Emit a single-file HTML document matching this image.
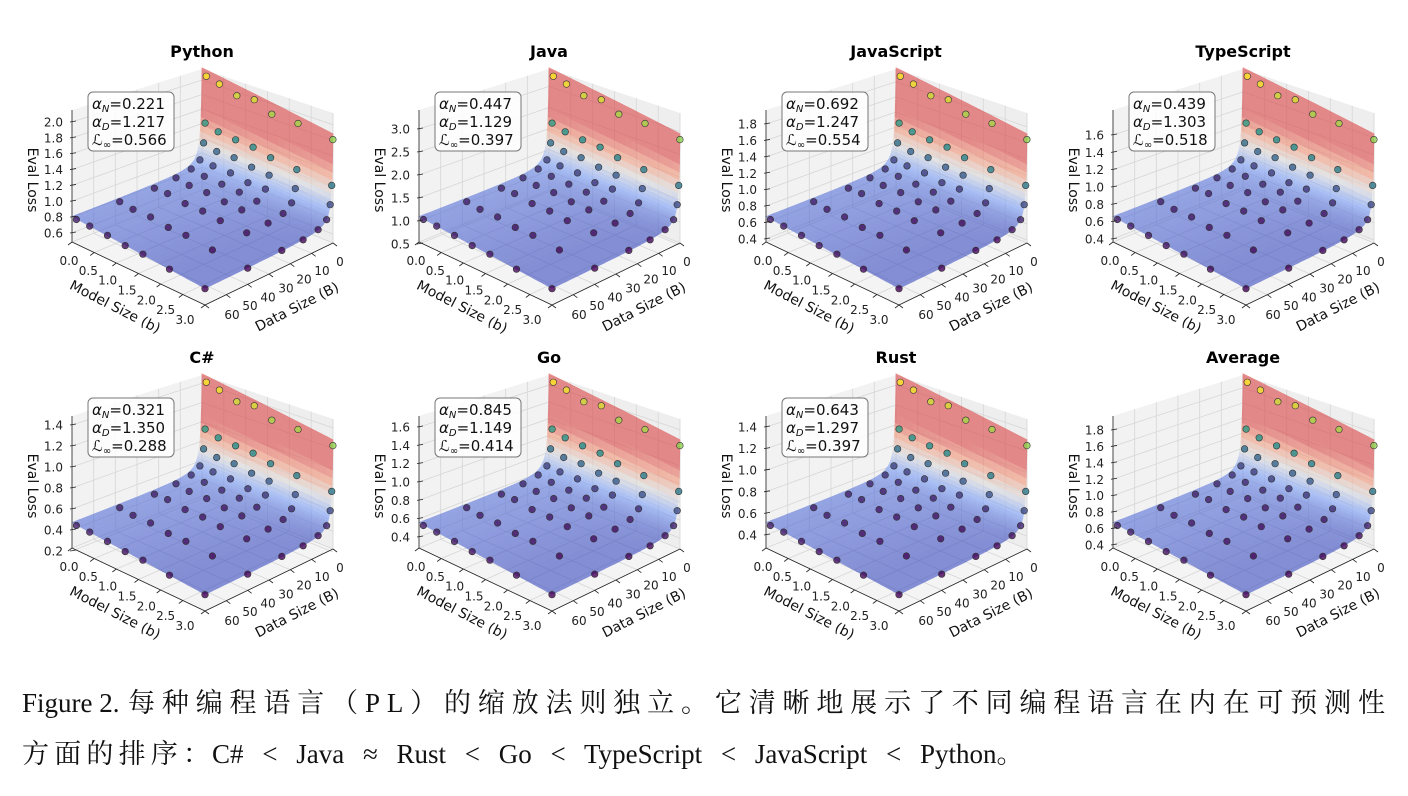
<!DOCTYPE html>
<html><head><meta charset="utf-8">
<style>
html,body{margin:0;padding:0;background:#fff;}
svg{display:block;}
</style></head>
<body>
<svg id="s" width="1408" height="796" xmlns="http://www.w3.org/2000/svg" font-family="DejaVu Sans, Liberation Sans, sans-serif">
<text x="22" y="712" font-family="Liberation Serif, Noto Serif CJK SC, serif" font-size="27" fill="#111">Figure 2.</text>
<text x="128" y="712" font-family="Liberation Serif, Noto Serif CJK SC, serif" font-size="27" fill="#111" textLength="1257" lengthAdjust="spacing">每种编程语言（PL）的缩放法则独立。它清晰地展示了不同编程语言在内在可预测性</text>
<text x="22" y="763" font-family="Liberation Serif, Noto Serif CJK SC, serif" font-size="27" fill="#111" textLength="188" lengthAdjust="spacing">方面的排序：</text>
<text x="212" y="763" font-family="Liberation Serif, Noto Serif CJK SC, serif" font-size="27" fill="#111" word-spacing="12">C# &lt; Java ≈ Rust &lt; Go &lt; TypeScript &lt; JavaScript &lt; Python。</text>
</svg>
<script>
const NS="http://www.w3.org/2000/svg";
const svg=document.getElementById('s');
const panels=[
["Python","0.221","1.217","0.566",[0.6,2.0,0.2],233,122],
["Java","0.447","1.129","0.397",[0.5,3.0,0.5],244,129],
["JavaScript","0.692","1.247","0.554",[0.4,1.8,0.2],239,124],
["TypeScript","0.439","1.303","0.518",[0.4,1.6,0.2],239,135],
["C#","0.321","1.350","0.288",[0.2,1.4,0.2],245,119],
["Go","0.845","1.149","0.414",[0.4,1.6,0.2],231,121],
["Rust","0.643","1.297","0.397",[0.4,1.4,0.2],229,121],
["Average",null,null,null,[0.4,1.8,0.2],239,124]
];
const C={B:[202,190],L:[72,242],F:[205,305],R:[333,243]};
const H={B:121,L:132,F:135,R:130};
function proj(u,w,z){
 const bx=C.B[0]*(1-u)*(1-w)+C.L[0]*(1-u)*w+C.F[0]*u*w+C.R[0]*u*(1-w);
 const by=C.B[1]*(1-u)*(1-w)+C.L[1]*(1-u)*w+C.F[1]*u*w+C.R[1]*u*(1-w);
 const h=H.B*(1-u)*(1-w)+H.L*(1-u)*w+H.F*u*w+H.R*u*(1-w);
 return [bx,by-z*h];
}
function lerpC(stops,t){
 t=Math.max(0,Math.min(1,t));
 for(let i=0;i<stops.length-1;i++){
  const a=stops[i],b=stops[i+1];
  if(t<=b[0]){const f=(t-a[0])/(b[0]-a[0]);
   const c=[0,1,2].map(k=>Math.round(a[1][k]+(b[1][k]-a[1][k])*f));
   return `rgb(${c[0]},${c[1]},${c[2]})`;}
 }
 const l=stops[stops.length-1][1];return `rgb(${l[0]},${l[1]},${l[2]})`;
}
const cool=[[0,[59,76,192]],[0.25,[123,159,249]],[0.5,[221,221,221]],[0.75,[244,154,123]],[1,[220,70,70]]];
const viri=[[0,[68,1,84]],[0.25,[59,82,139]],[0.5,[33,145,140]],[0.75,[94,201,98]],[1,[253,231,37]]];
function zf(m,d){const g=Math.pow(1+d/0.63,-1.2);return 0.12+0.07*(1-m/3)+(0.72+0.1*(1-m/3))*g;}
function el(tag,attrs,parent,txt){const e=document.createElementNS(NS,tag);for(const k in attrs)e.setAttribute(k,attrs[k]);if(txt!=null)e.textContent=txt;parent.appendChild(e);return e;}
function pts(a){return a.map(p=>p[0].toFixed(1)+","+p[1].toFixed(1)).join(" ");}
panels.forEach((P,idx)=>{
 const ox=(idx%4)*347, oy=Math.floor(idx/4)*306;
 const g=el('g',{transform:`translate(${ox},${oy})`},svg);
 const [name,an,ad,li,tk,y0,y1]=P;
 const ticks=[];for(let v=tk[0];v<=tk[1]+1e-6;v+=tk[2])ticks.push(+v.toFixed(2));
 const nT=ticks.length;
 const hL=H.L, baseL=C.L[1];
 const tickZ=ticks.map((v,i)=>{const y=y0+(y1-y0)*i/(nT-1);return (baseL-y)/hL;});
 el('polygon',{points:pts([proj(0,0,0),proj(0,1,0),proj(1,1,0),proj(1,0,0)]),fill:"#f4f4f4"},g);
 el('polygon',{points:pts([proj(0,0,0),proj(0,1,0),proj(0,1,1),proj(0,0,1)]),fill:"#f2f2f2"},g);
 el('polygon',{points:pts([proj(0,0,0),proj(1,0,0),proj(1,0,1),proj(0,0,1)]),fill:"#eeeeee"},g);
 const gs={stroke:"#d6d6d6","stroke-width":0.8,fill:"none"};
 for(let i=0;i<=6;i++){const u=i/6;el('polyline',Object.assign({points:pts([proj(u,1,0),proj(u,0,0),proj(u,0,1)])},gs),g);}
 for(let i=0;i<=6;i++){const w=i/6;el('polyline',Object.assign({points:pts([proj(1,w,0),proj(0,w,0),proj(0,w,1)])},gs),g);}
 tickZ.forEach(z=>{el('polyline',Object.assign({points:pts([proj(0,1,z),proj(0,0,z),proj(1,0,z)])},gs),g);});
 const sg=el('g',{opacity:0.6},g);
 const NU=22,NW=50;
 const quads=[];
 for(let i=0;i<NU;i++)for(let j=0;j<NW;j++){
  const u0=i/NU,u1=(i+1)/NU,t0=j/NW,t1=(j+1)/NW;
  const d0=60*Math.pow(t0,3),d1=60*Math.pow(t1,3);
  const w0=d0/60,w1=d1/60;
  const m0=u0*3,m1=u1*3;
  const z00=zf(m0,d0),z10=zf(m1,d0),z11=zf(m1,d1),z01=zf(m0,d1);
  const zc=(z00+z10+z11+z01)/4;
  quads.push({k:(1-(u0+u1)/2)+(1-(w0+w1)/2),p:[proj(u0,w0,z00),proj(u1,w0,z10),proj(u1,w1,z11),proj(u0,w1,z01)],c:lerpC(cool,(zc-0.14)/0.5)});
 }
 quads.sort((a,b)=>b.k-a.k);
 quads.forEach(q=>el('polygon',{points:pts(q.p),fill:q.c,stroke:q.c,"stroke-width":0.6},sg));
 const ms=[0.1,0.4,0.8,1.2,1.6,2.2,3.0], ds=[0.05,0.6,1.3,3,7,14,24,40,60];
 const dots=[];
 ms.forEach(m=>ds.forEach(d=>{const z=zf(m,d)*(1+0.03*Math.sin(m*7+d));dots.push({k:(1-m/3)+(1-d/60),p:proj(m/3,d/60,z),c:lerpC(viri,(z-0.12)/0.82)});}));
 dots.sort((a,b)=>b.k-a.k);
 dots.forEach(o=>el('circle',{cx:o.p[0].toFixed(1),cy:o.p[1].toFixed(1),r:3.3,fill:o.c,"fill-opacity":0.8,stroke:"#333","stroke-width":0.6},g));
 const ax={stroke:"#222","stroke-width":0.8,fill:"none"};
 el('line',Object.assign({x1:C.L[0],y1:C.L[1],x2:C.F[0],y2:C.F[1]},ax),g);
 el('line',Object.assign({x1:C.F[0],y1:C.F[1],x2:C.R[0],y2:C.R[1]},ax),g);
 el('line',Object.assign({x1:C.L[0],y1:C.L[1],x2:C.L[0],y2:C.L[1]-H.L},ax),g);
 ticks.forEach((v,i)=>{const y=y0+(y1-y0)*i/(nT-1);
  el('line',Object.assign({x1:C.L[0]-2,y1:y,x2:C.L[0]+4,y2:y-1},ax),g);
  el('text',{x:63,y:y+4.5,"text-anchor":"end","font-size":12,fill:"#222"},g,v.toFixed(1));});
 for(let i=0;i<=6;i++){const x=69+(185-69)*i/6,y=261+(320-261)*i/6;
  el('text',{x:x,y:y+4,"text-anchor":"middle","font-size":12,fill:"#222"},g,(i*0.5).toFixed(1));
  const p=proj(i/6,1,0);el('line',Object.assign({x1:p[0],y1:p[1],x2:p[0]-4,y2:p[1]+3},ax),g);}
 for(let i=0;i<=6;i++){const x=232+(340-232)*i/6,y=315+(262-315)*i/6;
  el('text',{x:x,y:y+4,"text-anchor":"middle","font-size":12,fill:"#222"},g,String(60-i*10));
  const p=proj(1,1-i/6,0);el('line',Object.assign({x1:p[0],y1:p[1],x2:p[0]+4,y2:p[1]+3},ax),g);}
 el('text',{x:0,y:0,transform:"translate(113,311) rotate(27)","text-anchor":"middle","font-size":14,fill:"#111"},g,"Model Size (b)");
 el('text',{x:0,y:0,transform:"translate(299,311) rotate(-27)","text-anchor":"middle","font-size":14,fill:"#111"},g,"Data Size (B)");
 el('text',{x:0,y:0,transform:"translate(28,180) rotate(90)","text-anchor":"middle","font-size":14,fill:"#111"},g,"Eval Loss");
 el('text',{x:202,y:57,"text-anchor":"middle","font-size":16,"font-weight":"bold",fill:"#000"},g,name);
 if(an){
  el('rect',{x:88,y:92,width:86,height:59,rx:5,fill:"#fff","fill-opacity":0.85,stroke:"#777","stroke-width":1},g);
  const rows=[["α","N",an],["α","D",ad],["ℒ","∞",li]];
  rows.forEach((r,k)=>{const t=el('text',{x:92,y:109+k*18,"font-size":15,fill:"#111"},g);
   el('tspan',{"font-style":"italic"},t,r[0]);
   el('tspan',{dy:3,"font-size":10,"font-style":"italic"},t,r[1]);
   el('tspan',{dy:-3},t,"="+r[2]);});
 }
});
</script>
</body></html>
